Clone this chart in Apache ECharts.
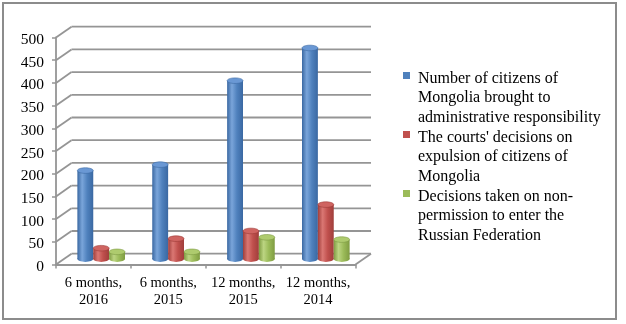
<!DOCTYPE html>
<html>
<head>
<meta charset="utf-8">
<script src="https://cdn.jsdelivr.net/npm/echarts@6/dist/echarts.min.js"></script>
<style>
  html, body { margin: 0; padding: 0; background: #ffffff; }
  #chart { width: 626px; height: 324px; }
</style>
</head>
<body>
<div id="chart"></div>
<script>
// Periods on the category axis
const categories = ['6 months,\n2016', '6 months,\n2015', '12 months,\n2015', '12 months,\n2014'];

// Series names (legend)
const seriesNames = [
  'Number of citizens of\nMongolia brought to\nadministrative responsibility',
  "The courts' decisions on\nexpulsion of citizens of\nMongolia",
  'Decisions taken on non-\npermission to enter the\nRussian Federation'
];

// Series values per period
const citizensResponsible = [195, 208, 393, 465];
const expulsionDecisions = [24, 45, 62, 120];
const entryBanDecisions = [16, 16, 48, 43];

// Value axis ticks
const valueTicks = [0, 50, 100, 150, 200, 250, 300, 350, 400, 450, 500];

// Oblique depth of the pseudo-3D box (pixels)
const DEPTH_X = 15.5;
const DEPTH_Y = -10.8;
const FONT = "'Liberation Serif', 'Times New Roman', serif";
const GRID_COLOR = '#959595';

const palettes = [
  { base: '#4F81BD', edge: '#3a68a2', light: '#7aa5da', top: '#6a98d4', rim: '#3d6aa3' },
  { base: '#C0504D', edge: '#a03e3b', light: '#da7773', top: '#cf6461', rim: '#9c3b38' },
  { base: '#9BBB59', edge: '#7f9c42', light: '#bcd582', top: '#aecb6e', rim: '#7e9b44' }
];

function wallRenderer(params, api) {
  const cs = params.coordSys;
  const v = api.value(0);
  const yF = api.coord([0, v])[1];
  const xL = cs.x, xR = cs.x + cs.width;
  const lineStyle = { stroke: GRID_COLOR, lineWidth: 1.8, fill: null };
  const children = [
    { type: 'line', shape: { x1: xL, y1: yF, x2: xL + DEPTH_X, y2: yF + DEPTH_Y }, style: lineStyle },
    { type: 'line', shape: { x1: xL + DEPTH_X, y1: yF + DEPTH_Y, x2: xR + DEPTH_X, y2: yF + DEPTH_Y }, style: lineStyle }
  ];
  if (v === 0) {
    children.push({ type: 'line', shape: { x1: xR, y1: yF, x2: xR + DEPTH_X, y2: yF + DEPTH_Y }, style: lineStyle });
  }
  return { type: 'group', children: children };
}

function cylinderRenderer(slot, pal) {
  return function (params, api) {
    const cat = api.value(0);
    const val = api.value(1);
    const base = api.coord([cat, 0]);
    const top = api.coord([cat, val]);
    const catW = api.size([1, 0])[0];
    const bw = catW * 0.212;
    const cx = base[0] + (slot - 1) * bw + DEPTH_X / 2;
    const yB = base[1] + DEPTH_Y / 2;
    const yT = top[1] + DEPTH_Y / 2;
    const rx = bw / 2;
    const ry = 2.8;
    const grad = new echarts.graphic.LinearGradient(0, 0, 1, 0, [
      { offset: 0, color: pal.edge },
      { offset: 0.3, color: pal.light },
      { offset: 0.62, color: pal.base },
      { offset: 1, color: pal.edge }
    ]);
    return {
      type: 'group',
      children: [
        { type: 'ellipse', shape: { cx: cx, cy: yB, rx: rx, ry: ry }, style: { fill: grad } },
        { type: 'rect', shape: { x: cx - rx, y: yT, width: bw, height: Math.max(0, yB - yT) }, style: { fill: grad } },
        { type: 'ellipse', shape: { cx: cx, cy: yT, rx: rx, ry: ry }, style: { fill: pal.top, stroke: pal.rim, lineWidth: 0.6 } }
      ]
    };
  };
}

const seriesValues = [citizensResponsible, expulsionDecisions, entryBanDecisions];

const chart = echarts.init(document.getElementById('chart'), null, { renderer: 'canvas' });

const series = [{
  name: 'walls',
  type: 'custom',
  z: 1,
  silent: true,
  renderItem: wallRenderer,
  encode: { y: 0 },
  data: valueTicks.map(function (v) { return [v]; })
}];

seriesValues.forEach(function (vals, s) {
  series.push({
    name: seriesNames[s],
    type: 'custom',
    z: 3,
    renderItem: cylinderRenderer(s, palettes[s]),
    itemStyle: { color: palettes[s].base },
    encode: { x: 0, y: 1 },
    data: vals.map(function (v, i) { return [i, v]; })
  });
});

chart.setOption({
  animation: false,
  backgroundColor: '#ffffff',
  grid: { left: 56, right: 270.5, top: 37.5, bottom: 59.5, containLabel: false },
  xAxis: {
    type: 'category',
    data: categories,
    boundaryGap: true,
    axisLine: { show: true, lineStyle: { color: GRID_COLOR, width: 1.8 } },
    axisTick: { show: true, length: 4, alignWithLabel: false, lineStyle: { color: GRID_COLOR, width: 1.5 } },
    axisLabel: { interval: 0, fontFamily: FONT, fontSize: 14.5, color: '#000', lineHeight: 17, margin: 10.5 },
    splitLine: { show: false }
  },
  yAxis: {
    type: 'value',
    min: valueTicks[0],
    max: valueTicks[valueTicks.length - 1],
    interval: valueTicks[1] - valueTicks[0],
    axisLine: { show: true, lineStyle: { color: GRID_COLOR, width: 1.8 } },
    axisTick: { show: true, length: 4, lineStyle: { color: GRID_COLOR, width: 1.5 } },
    axisLabel: { fontFamily: FONT, fontSize: 15.5, color: '#000', margin: 12, verticalAlign: 'top', lineHeight: 5 },
    splitLine: { show: false }
  },
  legend: {
    data: seriesNames,
    orient: 'vertical',
    left: 403,
    top: 69,
    padding: 0,
    itemGap: 1,
    itemWidth: 10,
    itemHeight: 58,
    icon: 'path://M0,3L7,3L7,10L0,10Z M0,0L0,0 M10,58L10,58',
    textStyle: { fontFamily: FONT, fontSize: 16, color: '#000', lineHeight: 19.3 },
    selectedMode: false
  },
  graphic: [{
    type: 'rect',
    silent: true,
    z: 100,
    shape: { x: 3, y: 3, width: 613, height: 316 },
    style: { fill: null, stroke: '#8c8c8c', lineWidth: 2 }
  }],
  series: series
});
</script>
</body>
</html>
